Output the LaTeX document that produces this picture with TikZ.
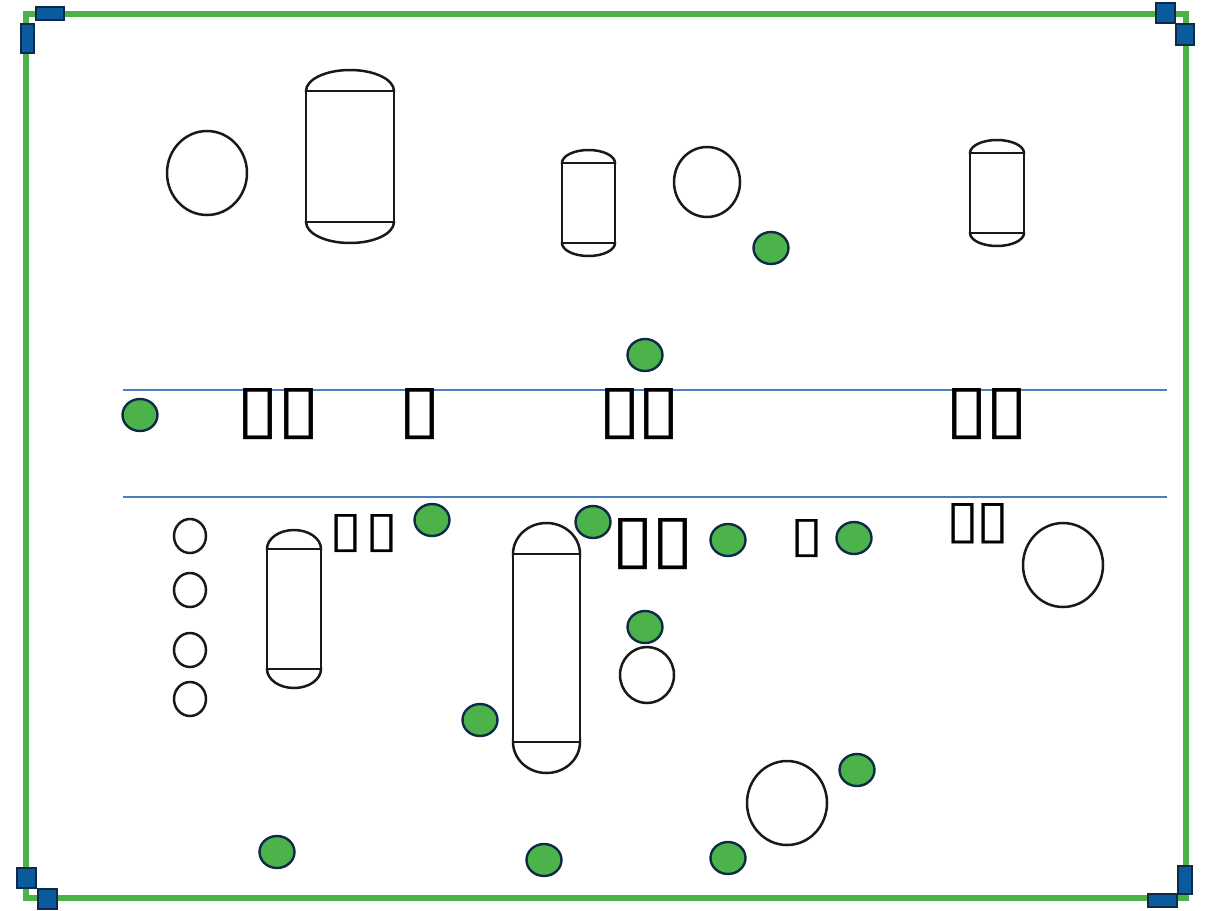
\documentclass[tikz,border=0pt]{standalone}
\usepackage{fontspec}
\usepackage{graphicx}
\usetikzlibrary{shapes.geometric}
\newfontfamily\djv{DejaVu Sans}
\begin{document}
\begin{tikzpicture}[x=1pt,y=-1pt,
  frame/.style={draw={rgb,255:red,76;green,178;blue,74}, line width=6pt},
  corner/.style={draw={rgb,255:red,14;green,42;blue,72}, fill={rgb,255:red,10;green,90;blue,158}, line width=2.2pt, inner sep=0pt, outer sep=0pt},
  sep/.style={draw={rgb,255:red,74;green,126;blue,192}, line width=1.2pt},
  dot/.style={ellipse, draw={rgb,255:red,14;green,42;blue,72}, fill={rgb,255:red,76;green,178;blue,74}, line width=2.4pt, minimum width=35pt, minimum height=32pt, inner sep=0pt},
  ring/.style={ellipse, draw=black!90, line width=2.5pt, inner sep=0pt},
  vline/.style={draw=black!90, line width=2.5pt},
  tofu/.style={inner sep=0pt, font=\djv}
]
\useasboundingbox (0,0) rectangle (1209,910);
% frame
\draw[frame] (26,14) rectangle (1186,898);
% corners
\node[corner, minimum width=28pt, minimum height=13pt] (c1) at (50,13.5) {};
\node[corner, minimum width=13pt, minimum height=29pt] (c2) at (27.5,38.5) {};
\node[corner, minimum width=19pt, minimum height=20pt] (c3) at (1165.5,13) {};
\node[corner, minimum width=18pt, minimum height=21pt] (c4) at (1185,34.5) {};
\node[corner, minimum width=19pt, minimum height=20pt] (c5) at (26.5,878) {};
\node[corner, minimum width=19pt, minimum height=20pt] (c6) at (47.5,899) {};
\node[corner, minimum width=14pt, minimum height=28pt] (c7) at (1185,880) {};
\node[corner, minimum width=29pt, minimum height=13pt] (c8) at (1162.5,900.5) {};
% separators
\coordinate (s1a) at (123,390); \coordinate (s1b) at (1167,390);
\coordinate (s2a) at (123,497); \coordinate (s2b) at (1167,497);
\draw[sep] (s1a) -- (s1b);
\draw[sep] (s2a) -- (s2b);
% vessels: ellipses then white rectangles over them
\newcommand\vsl[6]{% name, cx, rx, topline, botline, ry
  \draw[vline] (#2,#4) ellipse[x radius=#3pt, y radius=#6pt];
  \draw[vline] (#2,#5) ellipse[x radius=#3pt, y radius=#6pt];
  \path[vline, fill=white] (#2-#3,#4) rectangle (#2+#3,#5);
  \coordinate (#1) at (#2,#4);
}
\vsl{v1}{350}{44}{91}{222}{21}
\vsl{v2}{588.5}{26.5}{163}{243}{13}
\vsl{v3}{997}{27}{153}{233}{13}
\vsl{v4}{294}{27}{549}{669}{19}
\vsl{v5}{546.5}{33.5}{554}{742}{31}
% rings
\node[ring, minimum width=80pt, minimum height=84pt] (r1) at (207,173) {};
\node[ring, minimum width=66pt, minimum height=70pt] (r2) at (707,182) {};
\node[ring, minimum width=32pt, minimum height=34pt] (r3) at (190,536) {};
\node[ring, minimum width=32pt, minimum height=34pt] (r4) at (190,590) {};
\node[ring, minimum width=32pt, minimum height=34pt] (r5) at (190,650) {};
\node[ring, minimum width=32pt, minimum height=34pt] (r6) at (190,699) {};
\node[ring, minimum width=80pt, minimum height=84pt] (r7) at (1063,565) {};
\node[ring, minimum width=54pt, minimum height=56pt] (r8) at (647,675) {};
\node[ring, minimum width=80pt, minimum height=84pt] (r9) at (787,803) {};
% dots
\node[dot] (d1) at (771,248) {};
\node[dot] (d2) at (645,355) {};
\node[dot] (d3) at (140,415) {};
\node[dot] (d4) at (432,520) {};
\node[dot] (d5) at (593,522) {};
\node[dot] (d6) at (728,540) {};
\node[dot] (d7) at (854,538) {};
\node[dot] (d8) at (645,627) {};
\node[dot] (d9) at (480,720) {};
\node[dot] (d10) at (857,770) {};
\node[dot] (d11) at (277,852) {};
\node[dot] (d12) at (544,860) {};
\node[dot] (d13) at (728,858) {};
% tofu texts (one glyph per node)
\newcommand\tf[5]{\node[tofu] (#1) at (#2,#3) {\resizebox{#4pt}{#5pt}{▯}};}
\tf{t1a}{258}{414.5}{43}{43}
\tf{t1b}{299.5}{414.5}{43}{43}
\tf{t2}{420}{414.5}{43}{43}
\tf{t3a}{620}{414.5}{43}{43}
\tf{t3b}{659.5}{414.5}{43}{43}
\tf{t4a}{966.5}{414.5}{43}{43}
\tf{t4b}{1006.5}{414.5}{43}{43}
\tf{t5a}{346.5}{534}{33}{32}
\tf{t5b}{382.5}{534}{33}{32}
\tf{t6a}{633.5}{544.5}{43}{43}
\tf{t6b}{673.5}{544.5}{43}{43}
\tf{t7}{807}{539}{33}{32}
\tf{t8a}{962.5}{524}{33}{34}
\tf{t8b}{992.5}{524}{33}{34}
\end{tikzpicture}
\end{document}
